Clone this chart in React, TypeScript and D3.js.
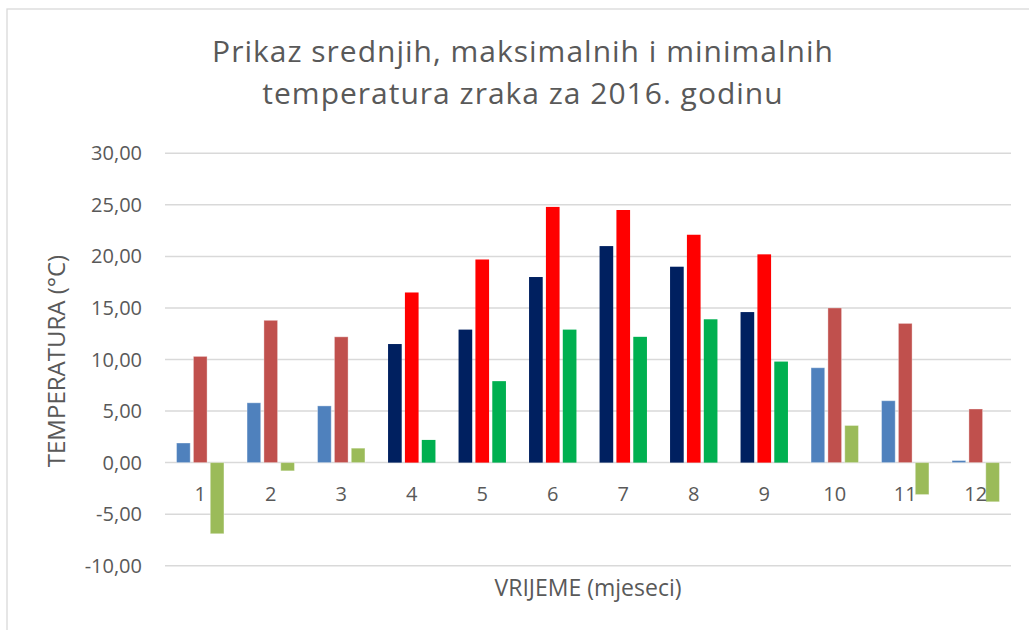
import React from "react";
import * as d3 from "d3";

const months: string[] = ["1", "2", "3", "4", "5", "6", "7", "8", "9", "10", "11", "12"];
const meanTemp: number[] = [1.9, 5.8, 5.5, 11.5, 12.9, 18.0, 21.0, 19.0, 14.6, 9.2, 6.0, 0.2];
const maxTemp: number[] = [10.3, 13.8, 12.2, 16.5, 19.7, 24.8, 24.5, 22.1, 20.2, 15.0, 13.5, 5.2];
const minTemp: number[] = [-6.9, -0.8, 1.4, 2.2, 7.9, 12.9, 12.2, 13.9, 9.8, 3.6, -3.1, -3.8];
const yTicks: number[] = [-10, -5, 0, 5, 10, 15, 20, 25, 30];
const warmMonths: string[] = ["4", "5", "6", "7", "8", "9"];

const coldColors = ["#4F81BD", "#C0504D", "#9BBB59"];
const warmColors = ["#002060", "#FF0000", "#00B050"];

const W = 1029;
const H = 630;
const FONT = "'Open Sans', sans-serif";
const TEXT = "#595959";

export default function App() {
  const left = 165;
  const right = 1011;
  const top = 153.3;
  const bottom = 565.7;

  const x = d3.scaleBand<string>().domain(months).range([left, right]).padding(0);
  const y = d3.scaleLinear().domain([-10, 30]).range([bottom, top]);
  const series = [meanTemp, maxTemp, minTemp];
  const inner = d3
    .scaleBand<number>()
    .domain([0, 1, 2])
    .range([0, 47.4])
    .paddingInner(0.19)
    .paddingOuter(0);
  const groupW = 47.4;
  const fmt = (v: number) => d3.format(".2f")(v).replace(".", ",").replace("−", "-");

  return (
    <svg width={W} height={H} style={{ position: "absolute", left: 0, top: 0, display: "block" }}>
      <rect x={0} y={0} width={W} height={H} fill="#ffffff" />
      <rect x={7} y={9} width={W + 20} height={H + 20} fill="none" stroke="#d9d9d9" strokeWidth={1.3} />
      <text x={523} y={62} textAnchor="middle" fontFamily={FONT} fontSize={30} letterSpacing={1} fill={TEXT}>
        Prikaz srednjih, maksimalnih i minimalnih
      </text>
      <text x={523} y={104} textAnchor="middle" fontFamily={FONT} fontSize={30} letterSpacing={1} fill={TEXT}>
        temperatura zraka za 2016. godinu
      </text>
      {yTicks.map((t) => (
        <g key={t}>
          <line x1={left} x2={right} y1={y(t)} y2={y(t)} stroke="#d9d9d9" strokeWidth={1.5} />
          <text x={142} y={y(t)} dy="0.35em" textAnchor="end" fontFamily={FONT} fontSize={20} fill={TEXT}>
            {fmt(t)}
          </text>
        </g>
      ))}
      {months.map((m, i) => {
        const cols = warmMonths.includes(m) ? warmColors : coldColors;
        const gx = (x(m) as number) + x.bandwidth() / 2 - groupW / 2;
        return (
          <g key={m}>
            {series.map((s, k) => {
              const v = s[i];
              const y0 = y(0);
              const y1 = y(v);
              return (
                <rect
                  key={k}
                  x={gx + (inner(k) as number)}
                  y={Math.min(y0, y1)}
                  width={inner.bandwidth()}
                  height={Math.abs(y1 - y0)}
                  fill={cols[k]}
                  stroke={warmMonths.includes(m) ? "none" : "#ffffff"}
                  strokeOpacity={0.35}
                  strokeWidth={1}
                />
              );
            })}
            <text
              x={(x(m) as number) + x.bandwidth() / 2}
              y={494}
              dy="0.35em"
              textAnchor="middle"
              fontFamily={FONT}
              fontSize={20}
              fill={TEXT}
            >
              {m}
            </text>
          </g>
        );
      })}
      <text
        transform={`translate(57, ${361}) rotate(-90)`}
        textAnchor="middle"
        dy="0.35em"
        fontFamily={FONT}
        fontSize={24}
        fill={TEXT}
      >
        TEMPERATURA (°C)
      </text>
      <text x={(left + right) / 2} y={588} dy="0.35em" textAnchor="middle" fontFamily={FONT} fontSize={23} fill={TEXT}>
        VRIJEME (mjeseci)
      </text>
    </svg>
  );
}
